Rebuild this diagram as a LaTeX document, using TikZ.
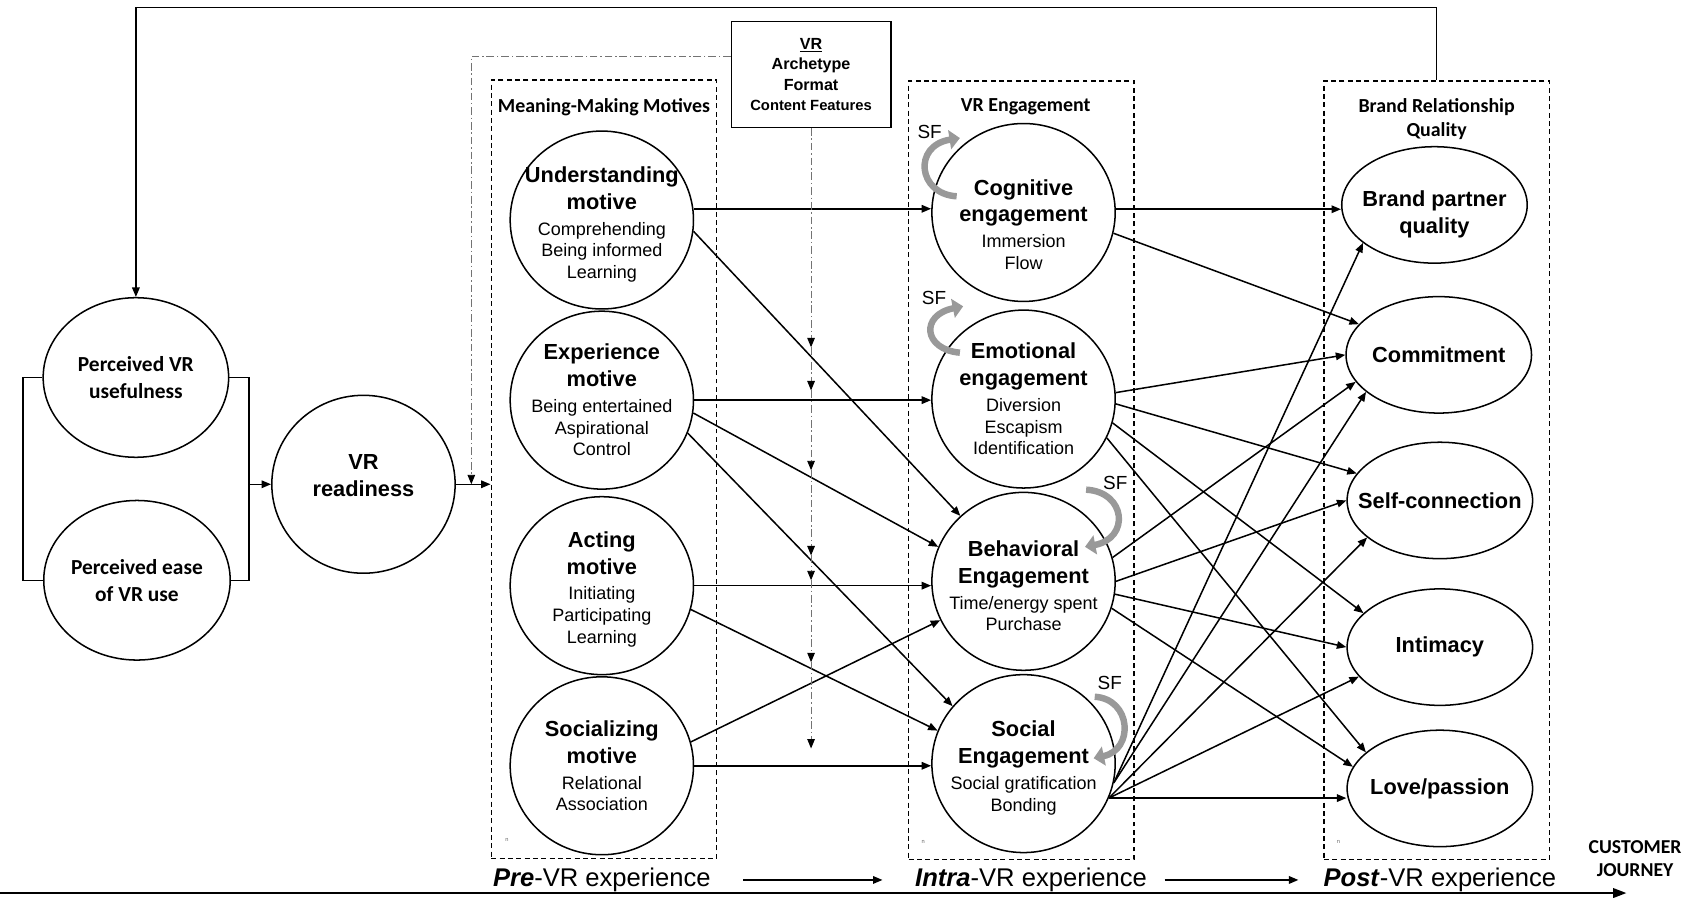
\documentclass[tikz,border=0pt]{standalone}
\usepackage{fontspec}
\setmainfont{Liberation Sans}
\newfontfamily\calibri{Carlito}
\usetikzlibrary{arrows.meta,shapes.geometric}
\newcommand\ttlfont{\fontsize{11.5}{14.2}\selectfont\bfseries}
\newcommand\subtxt{\fontsize{9.5}{11.4}\selectfont}
\begin{document}
\begin{tikzpicture}[x=0.02cm,y=-0.02cm,>={Triangle[length=5pt,width=4pt]},
cons/.style={ellipse,draw,line width=0.8pt,inner xsep=-0.5cm,inner ysep=0pt,minimum width=3.4cm,minimum height=3.3cm,align=center,font=\subtxt},
outc/.style={ellipse,draw,line width=0.8pt,inner xsep=-0.5cm,inner ysep=0pt,minimum width=3.44cm,minimum height=2.16cm,align=center,font=\ttlfont},
tam/.style={ellipse,draw,line width=0.8pt,inner sep=0pt,minimum width=3.44cm,minimum height=2.96cm,align=center,font=\calibri\fontsize{11.3}{14.2}\selectfont\bfseries},
grp/.style={draw,line width=0.8pt,dash pattern=on 2.6pt off 1.8pt,minimum width=4.18cm,minimum height=14.44cm,inner sep=0pt},
grptitle/.style={font=\calibri\fontsize{10.5}{12.6}\selectfont\bfseries,align=center},
vrbox/.style={draw,line width=0.8pt,minimum width=2.96cm,minimum height=1.96cm,align=center,font=\fontsize{8.5}{10.8}\selectfont\bfseries},
arr/.style={line width=0.8pt,->},
modline/.style={draw=black!55,line width=0.5pt,dash pattern=on 4pt off 1.5pt on 0.8pt off 1.5pt,-{Triangle[length=5pt,width=4pt,color=black]}},
sf/.style={draw=black!40,line width=3.4pt,-{Triangle[length=5.5pt,width=10pt]}},
sflabel/.style={font=\fontsize{10}{12}\selectfont},
stage/.style={font=\fontsize{13.5}{16}\selectfont,inner sep=0pt,anchor=base},
tinyn/.style={font=\fontsize{3}{3}\selectfont,text=black!60,inner sep=0pt}]
\useasboundingbox (0,0) rectangle (1566,832);

% groups
\node[grp] (mmbox) at (560,435) {};
\node[grp] (engbox) at (947,436) {};
\node[grp] (brq) at (1332,436) {};
\node[grptitle] (mmtitle) at (560,99) {Meaning-Making Motives};
\node[grptitle] (engtitle) at (951,99) {VR Engagement};
\node[grptitle] (brqtitle) at (1332,110) {Brand Relationship\\Quality};
\node[vrbox] (vr) at (752,69) {\underline{VR}\\Archetype\\Format\\{\fontsize{7.8}{10.8}\selectfont Content Features}};

% TAM and readiness
\node[tam] (pu) at (126,350) {Perceived VR\\usefulness};
\node[tam] (pe) at (127,538) {Perceived ease\\of VR use};
\node[cons,font=\ttlfont] (ready) at (337,449) {VR\\readiness\rule[-9pt]{0pt}{1pt}};
\draw[line width=0.8pt] (pu.west) -- ++(-18,0) coordinate (brL) |- (pe.west);
\draw[line width=0.8pt] (pu.east) -- ++(18,0) coordinate (brR) |- (pe.east);
\draw[arr] (ready.west -| brR) -- (ready.west);
\draw[arr] (ready.east) -- (ready.east -| mmbox.west);

% motives
\node[cons] (U) at (558,204) {{\ttlfont\rule{0pt}{13pt}Understanding}\\[2.8pt]{\ttlfont motive}\\[2.3pt]Comprehending\\Being informed\\Learning};
\node[cons] (E) at (558,371) {{\ttlfont Experience}\\[2.8pt]{\ttlfont motive}\\[2.3pt]Being entertained\\Aspirational\\Control};
\node[cons] (A) at (558,543) {{\ttlfont\rule{0pt}{12pt}Acting}\\[2.8pt]{\ttlfont motive}\\[2.3pt]Initiating\\Participating\\Learning};
\node[cons] (S) at (558,710) {{\ttlfont Socializing}\\[2.8pt]{\ttlfont motive}\\[2.3pt]Relational\\Association};

% engagement
\node[cons] (cog) at (949,197) {{\ttlfont\rule{0pt}{21pt}Cognitive}\\[2.8pt]{\ttlfont engagement}\\[2.3pt]Immersion\\Flow};
\node[cons] (emo) at (949,370) {{\ttlfont Emotional}\\[2.8pt]{\ttlfont engagement}\\[2.3pt]Diversion\\Escapism\\Identification};
\node[cons] (beh) at (949,539) {{\ttlfont\rule{0pt}{13pt}Behavioral}\\[2.8pt]{\ttlfont Engagement}\\[2.3pt]Time/energy spent\\Purchase};
\node[cons] (soc) at (949,708) {{\ttlfont\rule{0pt}{13pt}Social}\\[2.8pt]{\ttlfont Engagement}\\[2.3pt]Social gratification\\Bonding};

% outcomes
\node[outc] (bpq) at (1330,190) {\rule{0pt}{18.5pt}Brand partner\\quality};
\node[outc] (com) at (1334,329) {Commitment};
\node[outc] (self) at (1335,464) {Self-connection};
\node[outc] (int) at (1335,600) {Intimacy};
\node[outc] (love) at (1335,731) {Love/passion};

% SF loops
\draw[sf] ([shift={(-62,-15)}]cog.center) .. controls +(-36,-2) and +(-44,7) .. ([shift={(-59,-69)}]cog.center);
\node[sflabel] (sf1) at (862,122) {SF};
\draw[sf] ([shift={(-59,-43)}]emo.center) .. controls +(-34,-3) and +(-40,8) .. ([shift={(-56,-86)}]emo.center);
\node[sflabel] (sf2) at (866,276) {SF};
\draw[sf] ([shift={(58,-85)}]beh.center) .. controls +(37,2) and +(42,-8) .. ([shift={(57,-32)}]beh.center);
\node[sflabel] (sf3) at (1034,448) {SF};
\draw[sf] ([shift={(66,-62)}]soc.center) .. controls +(34,2) and +(38,-8) .. ([shift={(65,-5)}]soc.center);
\node[sflabel] (sf4) at (1029,633) {SF};

% motives -> engagement
\draw[arr] (U.7) -- (U.7 -| cog.west);
\draw[arr] (U.-7) -- (beh.134);
\draw[arr] (E.east) -- (E.east -| emo.west);
\draw[arr] (E.-8) -- (beh.158);
\draw[arr] (E.-21) -- (soc.141);
\draw[arr] (A.east) -- (A.east -| beh.west);
\draw[arr] (A.-15) -- (soc.159);
\draw[arr] (S.15) -- (beh.205);
\draw[arr] (S.east) -- (S.east -| soc.west);

% engagement -> brand relationship quality
\draw[arr] (cog.2) -- (cog.2 -| bpq.west);
\draw[arr] (cog.-13) -- (com.159);
\draw[arr] (emo.4) -- (com.180);
\draw[arr] (emo.-3) -- (self.162);
\draw[arr] (emo.-15) -- (int.156);
\draw[arr] (emo.-25) -- (love.154);
\draw[arr] (beh.15) -- (com.198);
\draw[arr] (beh.0) -- (self.180);
\draw[arr] (beh.-8) -- (int.180);
\draw[arr] (beh.-17) -- (love.166);
\draw[arr] (soc.-12) -- (bpq.208);
\draw[arr] (soc.-12) -- (com.207);
\draw[arr] (soc.-22) -- (self.207);
\draw[arr] (soc.-22) -- (int.200);
\draw[arr] (soc.-22) -- (soc.-22 -| love.west);

% feedback and moderator
\coordinate (top) at (0,7);
\draw[arr] (brq.north) |- (top -| pu.north) -- (pu.north);
\coordinate (modL) at (437,0);
\draw[modline] ([shift={(0,-17)}]vr.west) -| (ready.east -| modL);
\foreach \y [count=\i] in {322,362,436,515,538,614,694} {\coordinate (mod\i) at (752,\y);}
\draw[modline] (vr.south) -- (mod1);
\foreach \i [remember=\i as \j (initially 1)] in {2,...,7} \draw[modline] (mod\j) -- (mod\i);

% customer journey
\node[stage] (pre) at (558,822) {\textbf{\textit{Pre}}-VR experience};
\node[stage] (intra) at (956,822) {\textbf{\textit{Intra}}-VR experience};
\node[stage] (post) at (1335,822) {\textbf{\textit{Post}}-VR experience};
\draw[arr,shorten <=0.6cm,shorten >=0.6cm] (pre) -- (intra);
\draw[arr,shorten <=0.32cm,shorten >=0.46cm] (intra) -- (post);
\coordinate (jstart) at (0,828);
\coordinate (jend) at (1508,828);
\draw[line width=1.1pt,-{Triangle[length=7pt,width=5pt]}] (jstart) -- (jend);
\node[grptitle,font=\calibri\fontsize{10.4}{12}\selectfont\bfseries] (journey) at (1516,796) {CUSTOMER\\JOURNEY};
\node[tinyn] (n1) at (470,779) {n};
\node[tinyn] (n2) at (856,781) {n};
\node[tinyn] (n3) at (1241,781) {n};
\end{tikzpicture}
\end{document}
